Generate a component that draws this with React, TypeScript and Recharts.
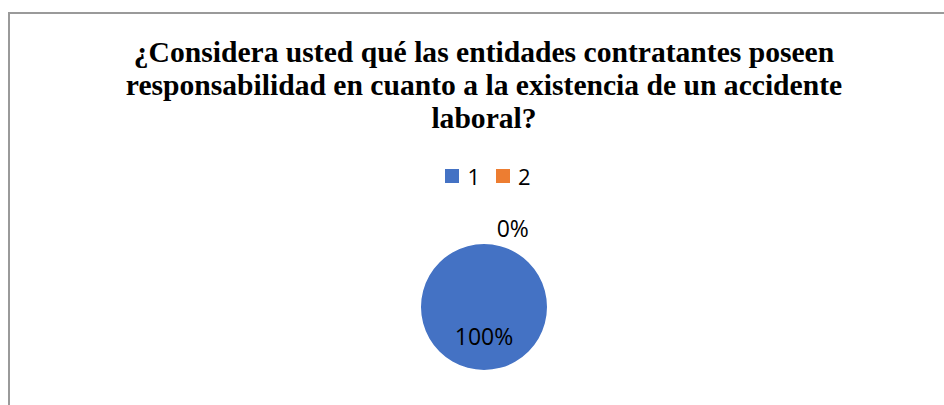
import React from "react";
import {Legend, Pie, PieChart} from "recharts";

const titleLines = [
    "¿Considera usted qué las entidades contratantes poseen",
    "responsabilidad en cuanto a la existencia de un accidente",
    "laboral?",
];
const categories = ["1", "2"];
const values = [100, 0];
const colors = ["#4472C4", "#ED7D31"];

const data = categories.map((name, i) => ({name, value: values[i], fill: colors[i]}));

const RAD = Math.PI / 180;

const renderLabel = (p: any) => {
    // zero slice label sits outside, the full slice label sits inside
    const r = p.value > 0 ? p.outerRadius * 0.46 : p.outerRadius + 21;
    const ang = p.value > 0 ? p.midAngle : p.midAngle - 20;
    const x = p.cx + r * Math.cos(-ang * RAD);
    const y = p.cy + r * Math.sin(-ang * RAD);
    return (
        <text x={x} y={y} textAnchor="middle" dominantBaseline="central"
              fontFamily="Open Sans" fontSize={23} fill="#000">
            {`${Math.round(p.percent * 100)}%`}
        </text>
    );
};

const renderLegend = (props: any) => {
    const items = props.payload || [];
    return (
        <div style={{display: "flex", justifyContent: "center", fontFamily: "Open Sans", fontSize: 22, color: "#000"}}>
            {items.map((it: any, i: number) => (
                <div key={i} style={{display: "flex", alignItems: "center", marginRight: i < items.length - 1 ? 16 : 0}}>
                    <span style={{width: 14, height: 14, background: it.color, display: "inline-block", marginRight: 8}}/>
                    <span>{it.value}</span>
                </div>
            ))}
        </div>
    );
};

export default function App() {
    return (
        <div style={{position: "absolute", left: 0, top: 0, width: 944, height: 405, background: "#fff", overflow: "hidden"}}>
            <div style={{position: "absolute", left: 8, top: 12, width: 940, height: 400,
                borderLeft: "2px solid #9a9a9a", borderTop: "2px solid #9a9a9a"}}/>
            <div style={{position: "absolute", left: 84, top: 36, width: 800, textAlign: "center",
                fontFamily: "Liberation Serif", fontWeight: "bold", fontSize: 29.6, lineHeight: "33px", color: "#000"}}>
                {titleLines.map((l, i) => <div key={i} style={{whiteSpace: "nowrap"}}>{l}</div>)}
            </div>
            <PieChart width={944} height={405} margin={{top: 0, right: 0, bottom: 0, left: 0}}
                      style={{position: "absolute", left: 0, top: 0}}>
                <Legend layout="horizontal" verticalAlign="middle" content={renderLegend}
                        wrapperStyle={{top: 161, left: 16, width: 944}}/>
                <Pie data={data} dataKey="value" nameKey="name" cx={484} cy={307} outerRadius={63}
                     startAngle={90} endAngle={-270} stroke="none" labelLine={false}
                     label={renderLabel} isAnimationActive={false}/>
            </PieChart>
        </div>
    );
}
